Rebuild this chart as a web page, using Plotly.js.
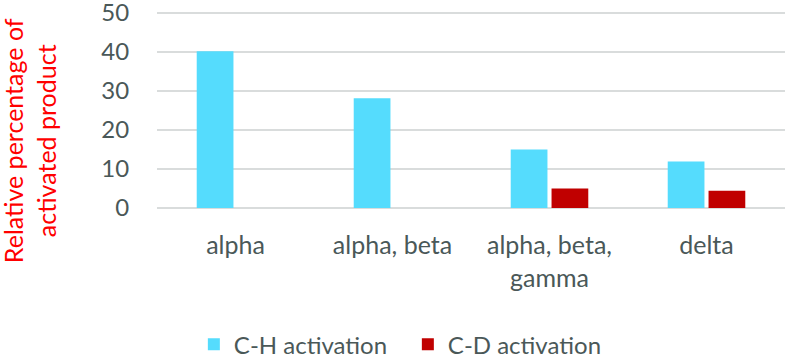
<!DOCTYPE html>
<html>
<head>
<meta charset="utf-8">
<script src="https://cdn.plot.ly/plotly-3.0.1.min.js"></script>
<style>
  html, body { margin: 0; padding: 0; background: #fff; }
  #chart { width: 788px; height: 358px; }
</style>
</head>
<body>
<div id="chart"></div>
<script>
  /* values */
  var categories = ['alpha', 'alpha, beta', 'alpha, beta,<br>gamma', 'delta'];
  var chValues = [40.2, 28.1, 15.0, 11.9];
  var cdValues = [null, null, 5.0, 4.4];
  var yTicks = [0, 10, 20, 30, 40, 50];

  var FONT = 'Lato, "Open Sans", sans-serif';
  var TEXT = '#4a5858';

  var traces = [
    { type: 'bar', name: 'C-H activation', x: categories, y: chValues,
      marker: { color: '#55dcfd' }, hoverinfo: 'skip' },
    { type: 'bar', name: 'C-D activation', x: categories, y: cdValues,
      marker: { color: '#c00000' }, hoverinfo: 'skip' }
  ];

  var layout = {
    width: 788, height: 358,
    margin: { l: 157, r: 3, t: 9, b: 149, autoexpand: false },
    paper_bgcolor: '#fff', plot_bgcolor: '#fff',
    font: { family: FONT, size: 24, color: TEXT },
    barmode: 'group', bargap: 0.48, bargroupgap: 0.1,
    showlegend: true,
    legend: { orientation: 'h', xref: 'container', yref: 'container',
      x: 0.246, xanchor: 'left', y: 0.037, yanchor: 'middle',
      entrywidth: 169, font: { size: 24, color: TEXT }, itemclick: false },
    xaxis: { type: 'category', showgrid: false, showline: false,
      ticks: 'outside', ticklen: 14, tickcolor: 'rgba(0,0,0,0)',
      tickfont: { size: 25, color: TEXT }, fixedrange: true, automargin: false },
    yaxis: { range: [-0.25, 51], tickvals: yTicks, showgrid: true, gridcolor: '#d9dcdc', gridwidth: 2,
      zeroline: true, zerolinecolor: '#d9dcdc', zerolinewidth: 2, showline: false,
      ticks: 'outside', ticklen: 22, tickcolor: 'rgba(0,0,0,0)', ticklabeloverflow: 'allow',
      tickfont: { size: 24, color: TEXT }, fixedrange: true, automargin: false },
    annotations: [{
      text: 'Relative percentage of<br>activated product',
      xref: 'paper', yref: 'paper', x: -0.202, y: 0.34,
      xanchor: 'center', yanchor: 'middle', textangle: -90, showarrow: false,
      font: { family: FONT, size: 25, color: '#ff0000' }
    }]
  };

  Plotly.newPlot('chart', traces, layout, { displayModeBar: false, staticPlot: true });
</script>
</body>
</html>
